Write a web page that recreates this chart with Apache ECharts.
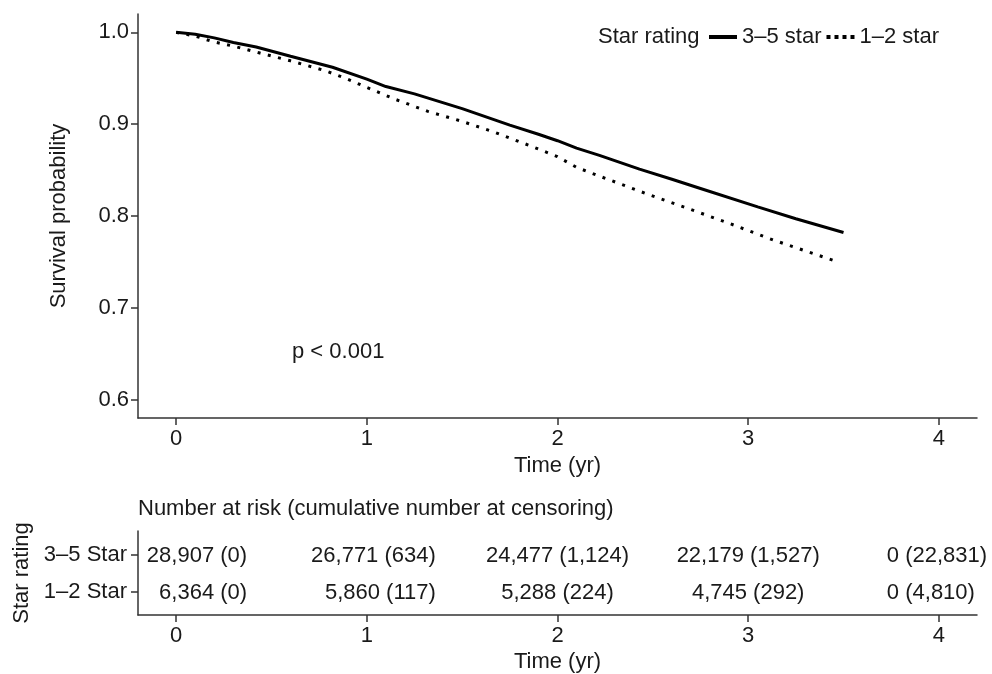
<!DOCTYPE html>
<html>
<head>
<meta charset="utf-8">
<script src="https://cdn.jsdelivr.net/npm/echarts@6/dist/echarts.min.js"></script>
<style>
html,body{margin:0;padding:0;background:#fff;}
#chart{width:992px;height:674px;}
</style>
</head>
<body>
<div id="chart"></div>
<script>
// ---- data ----
const groupNames = ['3–5 star', '1–2 star'];
const survHigh = [[0,1.0],[0.1,0.998],[0.2,0.994],[0.3,0.989],[0.42,0.984],[0.6,0.974],[0.82,0.962],[1.0,0.949],[1.1,0.941],[1.25,0.933],[1.5,0.917],[1.75,0.899],[1.9,0.889],[2.0,0.882],[2.1,0.874],[2.22,0.866],[2.43,0.851],[2.6,0.840],[2.75,0.830],[3.05,0.810],[3.25,0.797],[3.5,0.782]];
const survLow = [[0,1.0],[0.1,0.996],[0.19,0.990],[0.3,0.985],[0.43,0.978],[0.6,0.969],[0.785,0.958],[0.9,0.949],[1.0,0.940],[1.15,0.927],[1.32,0.914],[1.5,0.903],[1.66,0.892],[1.85,0.877],[1.996,0.865],[2.1,0.853],[2.2,0.845],[2.47,0.824],[2.7,0.807],[2.9,0.792],[3.13,0.774],[3.3,0.762],[3.47,0.750]];
const timeTicks = [0, 1, 2, 3, 4];
const survTicks = [0.6, 0.7, 0.8, 0.9, 1.0];
const riskRows = ['1–2 Star', '3–5 Star'];   // row 1, row 2 (bottom to top)
const riskHigh = ['28,907 (0)', '26,771 (634)', '24,477 (1,124)', '22,179 (1,527)', '0 (22,831)'];
const riskLow = ['6,364 (0)', '5,860 (117)', '5,288 (224)', '4,745 (292)', '0 (4,810)'];
const pText = 'p < 0.001';
const riskTitle = 'Number at risk (cumulative number at censoring)';

// ---- styles ----
const FONT = '"Liberation Sans", Arial, sans-serif';
const FS = 22;
const TXT = '#1a1a1a';
const AX = '#333';
const colAlign = ['right', 'right', 'center', 'center', 'left'];
const colShift = [71, 69, 0, 0, -52];

function riskData(arr, row) {
  return arr.map((s, i) => ({
    value: [timeTicks[i], row],
    label: { formatter: s, align: colAlign[i], offset: [colShift[i], 1] }
  }));
}

const axisCommon = {
  axisLine: { show: true, onZero: false, lineStyle: { color: AX, width: 1.5 } },
  axisTick: { show: true, length: 7, lineStyle: { color: AX, width: 1.5 } },
  splitLine: { show: false },
  nameTextStyle: { color: TXT, fontSize: FS, fontFamily: FONT },
};

const chart = echarts.init(document.getElementById('chart'), null, { renderer: 'canvas' });
chart.setOption({
  backgroundColor: '#fff',
  animation: false,
  textStyle: { fontFamily: FONT },
  grid: [
    { left: 138, right: 15, top: 14, height: 404 },
    { left: 138, right: 15, top: 531, height: 85 }
  ],
  xAxis: [
    Object.assign({}, axisCommon, {
      gridIndex: 0, type: 'value', min: -0.2, max: 4.2,
      name: 'Time (yr)', nameLocation: 'middle', nameGap: 36,
      axisTick: Object.assign({}, axisCommon.axisTick, { customValues: timeTicks }),
      axisLabel: { customValues: timeTicks, color: TXT, fontSize: FS, fontFamily: FONT, margin: 10 }
    }),
    Object.assign({}, axisCommon, {
      gridIndex: 1, type: 'value', min: -0.2, max: 4.2,
      name: 'Time (yr)', nameLocation: 'middle', nameGap: 36,
      axisTick: Object.assign({}, axisCommon.axisTick, { customValues: timeTicks }),
      axisLabel: { customValues: timeTicks, color: TXT, fontSize: FS, fontFamily: FONT, margin: 10 }
    })
  ],
  yAxis: [
    Object.assign({}, axisCommon, {
      gridIndex: 0, type: 'value', min: 0.58, max: 1.02,
      name: 'Survival probability', nameLocation: 'middle', nameGap: 68,
      axisTick: Object.assign({}, axisCommon.axisTick, { customValues: survTicks }),
      axisLabel: { customValues: survTicks, color: TXT, fontSize: FS, fontFamily: FONT, margin: 9,
        formatter: v => Number(v).toFixed(1) }
    }),
    Object.assign({}, axisCommon, {
      gridIndex: 1, type: 'value', min: 0.38, max: 2.64,
      name: 'Star rating', nameLocation: 'middle', nameGap: 103,
      axisTick: Object.assign({}, axisCommon.axisTick, { customValues: [1, 2] }),
      axisLabel: { customValues: [1, 2], color: TXT, fontSize: FS, fontFamily: FONT, margin: 11,
        formatter: v => riskRows[Math.round(v) - 1] }
    })
  ],
  legend: {
    data: [
      { name: groupNames[0], icon: 'rect' },
      { name: groupNames[1], icon: 'path://M0,0h4v4h-4z M8,0h4v4h-4z M16,0h4v4h-4z M24,0h4v4h-4z' }
    ],
    left: 709, top: 26, padding: 0,
    itemWidth: 28, itemHeight: 4, itemGap: 5,
    itemStyle: { color: '#000' },
    textStyle: { color: TXT, fontSize: FS, fontFamily: FONT }
  },
  graphic: [
    { type: 'text', x: 598, y: 37, style: { text: 'Star rating', font: FS + 'px ' + FONT, fill: TXT, verticalAlign: 'middle' } },
    { type: 'text', x: 292, y: 352, style: { text: pText, font: FS + 'px ' + FONT, fill: TXT, verticalAlign: 'middle' } },
    { type: 'text', x: 138, y: 509, style: { text: riskTitle, font: FS + 'px ' + FONT, fill: TXT, verticalAlign: 'middle' } }
  ],
  series: [
    { name: groupNames[0], type: 'line', xAxisIndex: 0, yAxisIndex: 0, data: survHigh,
      showSymbol: false, symbol: 'none', smooth: false,
      lineStyle: { color: '#000', width: 3 }, itemStyle: { color: '#000' } },
    { name: groupNames[1], type: 'line', xAxisIndex: 0, yAxisIndex: 0, data: survLow,
      showSymbol: false, symbol: 'none', smooth: false,
      lineStyle: { color: '#000', width: 3, type: [3, 7.5], cap: 'butt' }, itemStyle: { color: '#000' } },
    { type: 'scatter', xAxisIndex: 1, yAxisIndex: 1, symbolSize: 1, itemStyle: { color: '#fff', opacity: 1 },
      label: { show: true, position: 'inside', color: TXT, fontSize: FS, fontFamily: FONT,
        textBorderWidth: 0, opacity: 1 },
      data: riskData(riskHigh, 2).concat(riskData(riskLow, 1)), silent: true }
  ]
});
</script>
</body>
</html>
